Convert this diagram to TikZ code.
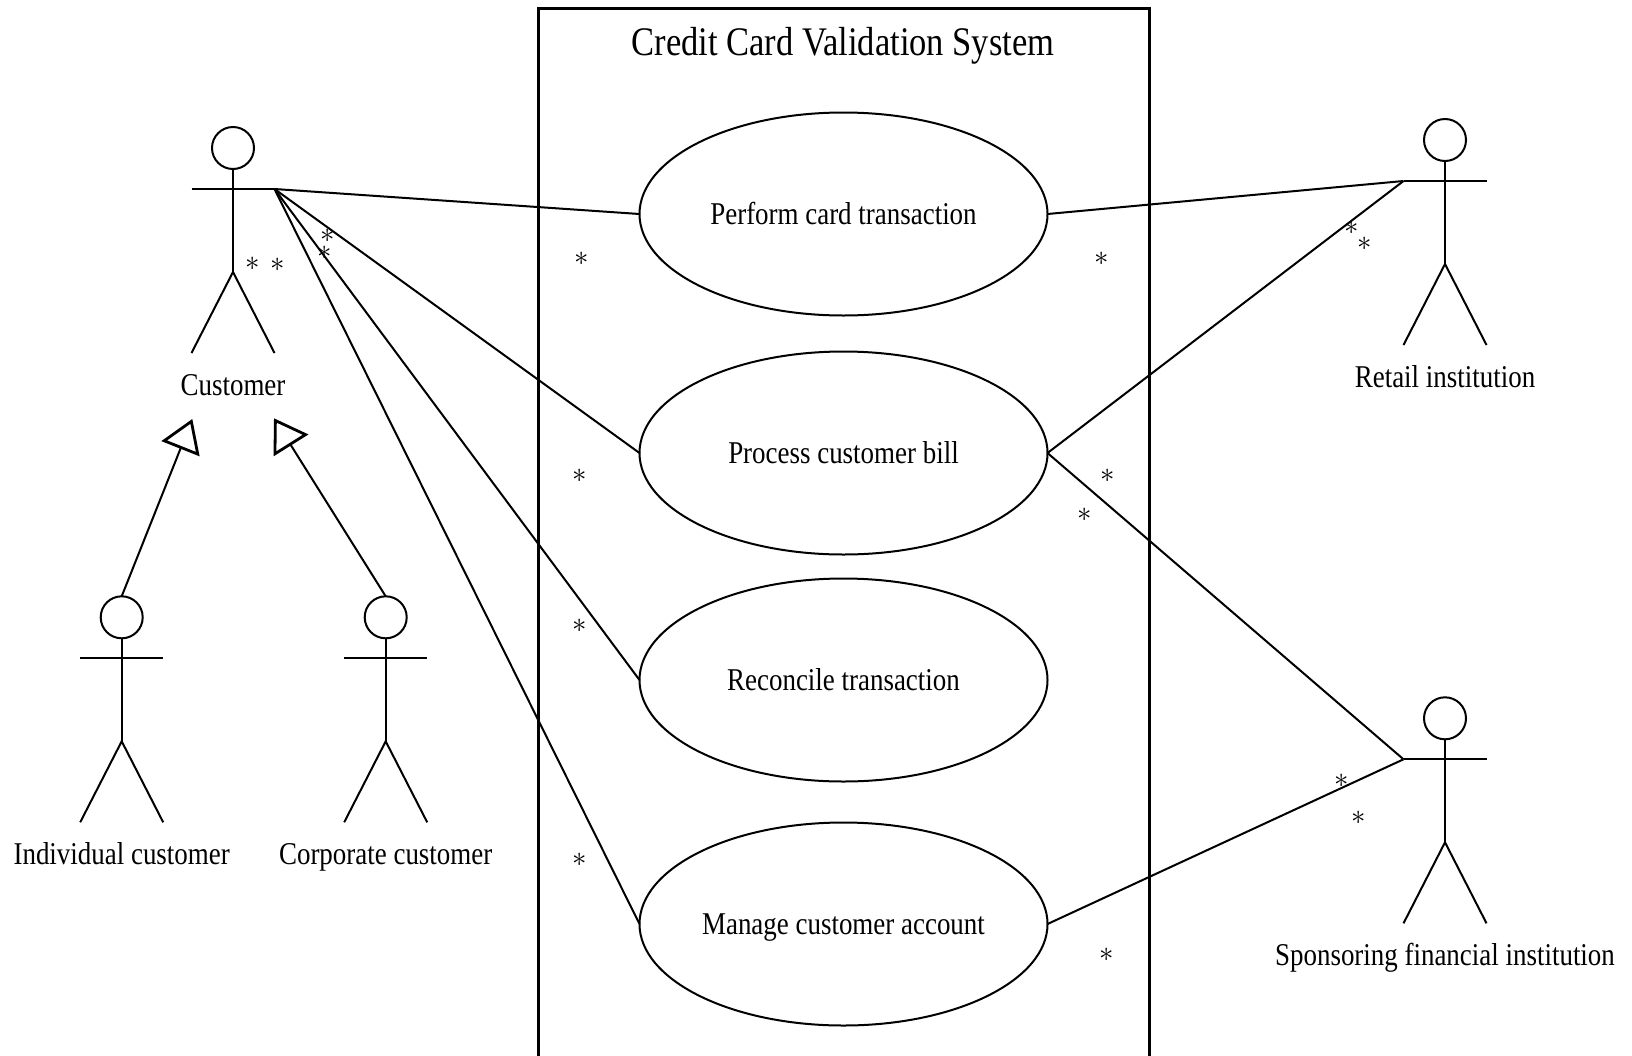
\documentclass[tikz,border=0pt]{standalone}
\usepackage{fontspec}
\setmainfont[FakeStretch=0.85]{Liberation Serif}
\usetikzlibrary{shapes.geometric,arrows.meta}
\tikzset{
  ln/.style={line width=1pt, line cap=butt},
  ucase/.style={ellipse, draw, line width=1pt, minimum width=204pt, minimum height=101.5pt,
    inner sep=0pt, outer sep=0pt, font=\fontsize{15.85}{18}\selectfont, text height=10.5pt, text depth=0pt},
  lbl/.style={font=\fontsize{15.85}{18}\selectfont, anchor=base, inner sep=0pt},
  mult/.style={font=\fontsize{15}{15}\selectfont, inner sep=0pt, text=black},
  assoc/.style={ln},
  gen/.style={ln, -{Triangle[open, length=16pt, width=20.3pt, line width=1.4pt]}},
  actor/.pic={
    \draw[ln] (0,0) circle[radius=21];
    \draw[ln] (0,21) -- (0,124);
    \draw[ln] (-41.5,41) -- (41.5,41);
    \draw[ln] (-41.5,205) -- (0,124) -- (41.5,205);
    \coordinate (-arml) at (-41.5,41);
    \coordinate (-armr) at (41.5,41);
    \coordinate (-top) at (0,-21);
  }
}
\begin{document}
\begin{tikzpicture}[x=0.5pt, y=-0.5pt]
\useasboundingbox (0,0) rectangle (1632,1055);
% system boundary
\draw[line width=1.5pt] (538,1070) -- (538,8) -- (1149,8) -- (1149,1070);
\node[font=\fontsize{20.3}{23}\selectfont, anchor=base, inner sep=0pt] (title) at (843,55) {Credit Card Validation System};
% use cases
\node[ucase] (uc1) at (843.5,214) {Perform card transaction};
\node[ucase] (uc2) at (843.5,453) {Process customer bill};
\node[ucase] (uc3) at (843.5,680) {Reconcile transaction};
\node[ucase] (uc4) at (843.5,924) {Manage customer account};
% actors
\pic (cust) at (233,148) {actor};
\node[lbl] (custL) at (233,395) {Customer};
\pic (ind) at (121.7,617.3) {actor};
\node[lbl] (indL) at (121.7,864) {Individual customer};
\pic (corp) at (385.7,617.3) {actor};
\node[lbl] (corpL) at (385.7,864) {Corporate customer};
\pic (ret) at (1445,140) {actor};
\node[lbl] (retL) at (1445,387) {Retail institution};
\pic (spon) at (1445,718.3) {actor};
\node[lbl] (sponL) at (1445,965.3) {Sponsoring financial institution};
% generalization targets
\coordinate (g1) at (192.3,419);
\coordinate (g2) at (274,418.3);
\draw[gen] (ind-top) -- (g1);
\draw[gen] (corp-top) -- (g2);
% associations
\draw[assoc] (cust-armr) -- (uc1.west);
\draw[assoc] (cust-armr) -- (uc2.west);
\draw[assoc] (cust-armr) -- (uc3.west);
\draw[assoc] (cust-armr) -- (uc4.west);
\draw[assoc] (uc1.east) -- (ret-arml);
\draw[assoc] (uc2.east) -- (ret-arml);
\draw[assoc] (uc2.east) -- (spon-arml);
\draw[assoc] (uc4.east) -- (spon-arml);
% multiplicities
\node[mult] (m1) at (252.3,263.3) {$\ast$};
\node[mult] (m2) at (277.3,265) {$\ast$};
\node[mult] (m3) at (327.3,235.5) {$\ast$};
\node[mult] (m4) at (325,252.5) {$\ast$};
\node[mult] (m5) at (582,258.3) {$\ast$};
\node[mult] (m6) at (579.3,475.7) {$\ast$};
\node[mult] (m7) at (579.3,625.7) {$\ast$};
\node[mult] (m8) at (580,860) {$\ast$};
\node[mult] (m9) at (1101.5,258.3) {$\ast$};
\node[mult] (m10) at (1351.2,227.5) {$\ast$};
\node[mult] (m11) at (1364.5,243.5) {$\ast$};
\node[mult] (m12) at (1108,475.7) {$\ast$};
\node[mult] (m13) at (1084.6,514.3) {$\ast$};
\node[mult] (m14) at (1341.5,780.7) {$\ast$};
\node[mult] (m15) at (1358.4,817.7) {$\ast$};
\node[mult] (m16) at (1106.7,955) {$\ast$};
\end{tikzpicture}
\end{document}
